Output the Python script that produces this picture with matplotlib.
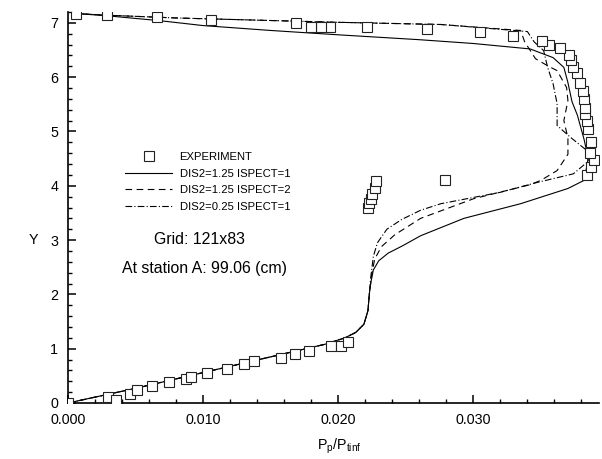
import matplotlib
matplotlib.use("Agg")
import matplotlib.pyplot as plt
from matplotlib.ticker import MultipleLocator, FormatStrFormatter

plt.rcParams['font.family'] = ['Liberation Sans', 'DejaVu Sans']
plt.rcParams['mathtext.fontset'] = 'custom'
plt.rcParams['mathtext.rm'] = 'Liberation Sans'

# measured pressure ratio (experiment)
exp_x = [0.0, 0.00298, 0.00356, 0.00459, 0.0051, 0.0062, 0.0075, 0.0087, 0.0091,
         0.0103, 0.0118, 0.0130, 0.0138, 0.0158, 0.0168, 0.0178, 0.0195, 0.0202, 0.0207,
         0.0222, 0.0223, 0.0224, 0.0225, 0.0227, 0.0228, 0.0279,
         0.0384, 0.0387, 0.0389, 0.0386, 0.0387, 0.0385, 0.0384, 0.0383, 0.0383,
         0.0382, 0.0381, 0.0379, 0.0377, 0.0374, 0.0372, 0.0371, 0.0364, 0.0356,
         0.0351, 0.0329, 0.0305, 0.0266, 0.0221, 0.0194, 0.0187, 0.0180, 0.0169,
         0.0106, 0.0066, 0.0029, 0.0006]
exp_y = [0.0, 0.11, 0.06, 0.17, 0.24, 0.31, 0.39, 0.44, 0.48,
         0.55, 0.62, 0.72, 0.78, 0.83, 0.91, 0.95, 1.05, 1.05, 1.12,
         3.60, 3.68, 3.76, 3.85, 3.95, 4.08, 4.10,
         4.19, 4.34, 4.47, 4.61, 4.80, 5.04, 5.20, 5.33, 5.44,
         5.60, 5.75, 5.90, 6.07, 6.18, 6.31, 6.40, 6.54, 6.60,
         6.67, 6.76, 6.84, 6.88, 6.93, 6.93, 6.93, 6.93, 6.99,
         7.06, 7.10, 7.15, 7.17]

# DIS2=1.25 ISPECT=1
s1_x = [0.0, 0.005, 0.010, 0.015, 0.019, 0.0205, 0.0213, 0.0219, 0.0222, 0.0223, 0.0224,
        0.0226, 0.0230, 0.0237, 0.0248, 0.0261, 0.0293, 0.0335, 0.0370, 0.0382,
        0.0385, 0.0382, 0.0377, 0.0373, 0.0370, 0.0367, 0.0359, 0.0342, 0.0300,
        0.0260, 0.0200, 0.0150, 0.0100, 0.0068, 0.0029, 0.0007]
s1_y = [0.0, 0.27, 0.56, 0.85, 1.08, 1.20, 1.30, 1.45, 1.70, 2.00, 2.20,
        2.45, 2.62, 2.76, 2.90, 3.08, 3.40, 3.67, 3.95, 4.10,
        4.50, 4.85, 5.30, 5.55, 5.90, 6.18, 6.36, 6.52, 6.62,
        6.69, 6.78, 6.86, 6.95, 7.04, 7.13, 7.17]

# DIS2=1.25 ISPECT=2
s2_x = [0.0, 0.005, 0.010, 0.015, 0.019, 0.0205, 0.0213, 0.0219, 0.0222, 0.0223, 0.0224,
        0.0225, 0.0227, 0.0232, 0.0242, 0.0261, 0.0300, 0.0342, 0.0350, 0.0362,
        0.0370, 0.0370, 0.0367, 0.0370, 0.0369, 0.0362, 0.0355, 0.0346, 0.0338,
        0.0335, 0.0276, 0.0200, 0.0140, 0.0080, 0.0030, 0.0007]
s2_y = [0.0, 0.27, 0.56, 0.85, 1.08, 1.20, 1.30, 1.45, 1.70, 2.00, 2.20,
        2.40, 2.65, 2.88, 3.10, 3.40, 3.76, 4.02, 4.10, 4.28,
        4.58, 4.88, 5.20, 5.57, 5.81, 6.12, 6.21, 6.34, 6.65,
        6.86, 6.97, 7.01, 7.05, 7.09, 7.14, 7.17]

# DIS2=0.25 ISPECT=1
s3_x = [0.0, 0.005, 0.010, 0.015, 0.019, 0.0205, 0.0213, 0.0219, 0.0222, 0.0223, 0.0224,
        0.0226, 0.0229, 0.0236, 0.0247, 0.0261, 0.0276, 0.0320, 0.0347, 0.0374,
        0.0385, 0.0384, 0.0372, 0.0362, 0.0362, 0.0359, 0.0355, 0.0352, 0.0345,
        0.0340, 0.0276, 0.0200, 0.0140, 0.0080, 0.0030, 0.0007]
s3_y = [0.0, 0.27, 0.56, 0.85, 1.08, 1.20, 1.30, 1.45, 1.70, 2.00, 2.30,
        2.70, 2.95, 3.20, 3.38, 3.55, 3.67, 3.88, 4.06, 4.22,
        4.45, 4.65, 4.89, 5.11, 5.51, 5.88, 6.18, 6.49, 6.65,
        6.84, 6.97, 7.01, 7.05, 7.09, 7.14, 7.17]


fig = plt.figure(figsize=(6.02, 4.59), dpi=100)
ax = fig.add_axes([68 / 602, 56 / 459, 531 / 602, 391 / 459])

ax.plot(exp_x, exp_y, linestyle='none', marker='s', markersize=7.4,
        markerfacecolor='white', markeredgecolor='#222222', markeredgewidth=0.8,
        label='EXPERIMENT', zorder=3)
ax.plot(s1_x, s1_y, color='black', linewidth=0.8, linestyle='-',
        label='DIS2=1.25 ISPECT=1')
ax.plot(s2_x, s2_y, color='black', linewidth=0.8, linestyle=(0, (6, 4)),
        label='DIS2=1.25 ISPECT=2')
ax.plot(s3_x, s3_y, color='black', linewidth=0.8, linestyle=(0, (6, 2, 1, 2)),
        label='DIS2=0.25 ISPECT=1')

ax.set_xlim(0, 0.0393)
ax.set_ylim(0, 7.2)
ax.xaxis.set_major_locator(MultipleLocator(0.01))
ax.xaxis.set_minor_locator(MultipleLocator(0.002))
ax.xaxis.set_major_formatter(FormatStrFormatter('%.3f'))
ax.yaxis.set_major_locator(MultipleLocator(1))
ax.yaxis.set_minor_locator(MultipleLocator(0.2))

for side in ['top', 'right']:
    ax.spines[side].set_visible(False)
for side in ['left', 'bottom']:
    ax.spines[side].set_linewidth(1.2)

ax.tick_params(which='major', direction='in', length=6, width=1.1, labelsize=10.3, pad=7)
ax.tick_params(which='minor', direction='in', length=3, width=1.0)

ax.set_xlabel(r'P$_\mathregular{p}$/P$_\mathregular{tinf}$', fontsize=10.3)
ax.xaxis.set_label_coords(0.51, -0.085)
ax.set_ylabel('Y', fontsize=10.3, rotation=0, va='center')
ax.yaxis.set_label_coords(-0.066, 0.417)

leg = ax.legend(loc='upper left', bbox_to_anchor=(125 / 602, 1 - 152 / 459),
                bbox_transform=fig.transFigure, frameon=False, fontsize=8.1,
                handlelength=4.2, handletextpad=0.65, labelspacing=0.58,
                borderpad=0, borderaxespad=0)

fig.text(200 / 602, 1 - 240 / 459, 'Grid: 121x83', fontsize=11.4,
         ha='center', va='center')
fig.text(205 / 602, 1 - 269 / 459, 'At station A: 99.06 (cm)', fontsize=11.4,
         ha='center', va='center')

fig.savefig('out.png', dpi=100)
